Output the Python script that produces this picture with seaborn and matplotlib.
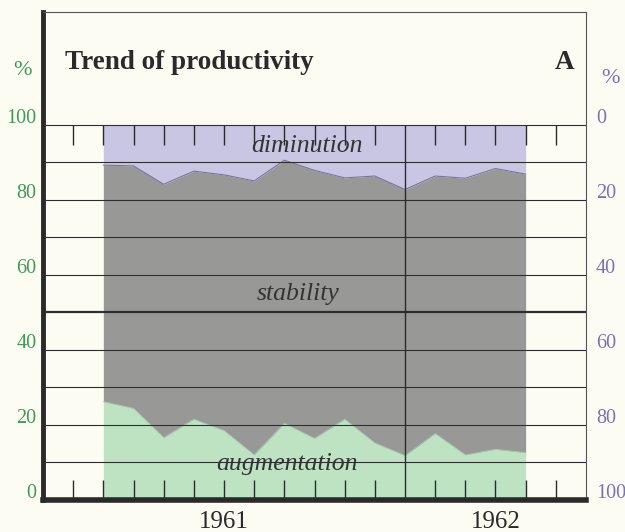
import numpy as np
import pandas as pd
import matplotlib.pyplot as plt
import matplotlib.transforms as mtransforms
import seaborn as sns

# monthly shares (%)
months = pd.period_range('1961-03', '1962-05', freq='M')
augmentation = [26.2, 24.4, 16.6, 21.5, 18.5, 12.0, 20.4, 16.4, 21.5, 15.2, 11.8, 17.7, 12.0, 13.5, 12.6]
stability = [63.0, 64.6, 67.5, 66.1, 68.1, 73.0, 70.1, 71.4, 64.3, 71.1, 70.9, 68.6, 73.7, 74.8, 74.2]
diminution = [10.8, 11.0, 15.9, 12.4, 13.4, 15.0, 9.5, 12.2, 14.2, 13.7, 17.3, 13.7, 14.3, 11.7, 13.2]
years = ['1961', '1962']
left_labels = [0, 20, 40, 60, 80, 100]

bg = '#fdfcf3'
green = '#bde3c3'
gray = '#989896'
purple = '#c9c6e4'
green_txt = '#3f9a55'
purple_txt = '#7b72b5'
ink = '#2a2a2a'

sns.set_theme(style='white')
plt.rcParams['font.family'] = ['Liberation Serif', 'DejaVu Serif']

df = pd.DataFrame({'month': months, 'augmentation': augmentation,
                   'stability': stability, 'diminution': diminution})
df['x'] = [(p.year - 1961) * 12 + p.month - 1 for p in df['month']]
df['low'] = df['augmentation']
df['high'] = df['augmentation'] + df['stability']

fig = plt.figure(figsize=(6.25, 5.32), dpi=100, facecolor=bg)
ax = fig.add_axes([0.0688, 0.0602, 0.8688, 0.9173])
ax.set_facecolor(bg)

# stacked areas
ax.fill_between(df['x'], 0, df['low'], color=green, lw=0)
ax.fill_between(df['x'], df['low'], df['high'], color=gray, lw=0)
ax.fill_between(df['x'], df['high'], 100, color=purple, lw=0)
sns.lineplot(data=df, x='x', y='high', color='#77739f', lw=0.8, ax=ax)
sns.lineplot(data=df, x='x', y='low', color='#a9cdb0', lw=0.6, ax=ax)

# horizontal rules
for v in range(10, 101, 10):
    ax.axhline(v, color='#2e2e2e', lw=1.6 if v == 50 else 0.8, zorder=3)

# month ticks and the year divider
for k in range(1, 18):
    if k == 12:
        ax.vlines(k, 0, 100, color='#2a2a2a', lw=1.0, zorder=3)
    else:
        ax.vlines(k, 0, 5.2, color='#2a2a2a', lw=1.0, zorder=3)
        ax.vlines(k, 94.5, 100, color='#2a2a2a', lw=1.0, zorder=3)

ax.set_xlim(0, 18)
ax.set_ylim(0, 130)
ax.set_xticks([])
ax.set_yticks([])
ax.set_xlabel('')
ax.set_ylabel('')

for side in ['top', 'right']:
    ax.spines[side].set_color('#555555')
    ax.spines[side].set_linewidth(0.8)
ax.spines['left'].set_color(ink)
ax.spines['left'].set_linewidth(3.5)
ax.spines['bottom'].set_color(ink)
ax.spines['bottom'].set_linewidth(4)

trans = mtransforms.blended_transform_factory(ax.transAxes, ax.transData)
for v in left_labels:
    ax.text(-0.012, v + 0.5, str(v), transform=trans, ha='right', va='baseline',
            fontsize=14.5, color=green_txt)
    ax.text(1.018, v + 0.5, str(100 - v), transform=trans, ha='left', va='baseline',
            fontsize=14.5, color=purple_txt)
ax.text(-0.037, 114.5, '%', transform=trans, ha='center', va='center',
        fontsize=16, color=green_txt)
ax.text(1.046, 112.4, '%', transform=trans, ha='center', va='center',
        fontsize=16, color=purple_txt)

ax.text(0.0405, 116.6, 'Trend of productivity', transform=trans, ha='left',
        va='center', fontsize=19.5, fontweight='bold', color=ink)
ax.text(0.978, 116.6, 'A', transform=trans, ha='right', va='center',
        fontsize=19.5, fontweight='bold', color=ink)

for year, xc in zip(years, [6, 15]):
    ax.text(xc, -5.8, year, ha='center', va='center', fontsize=18, color=ink,
            clip_on=False)

ax.text(8.75, 94.3, 'diminution', ha='center', va='center', fontsize=18.5,
        style='italic', color='#333333', zorder=4)
ax.text(8.45, 54.9, 'stability', ha='center', va='center', fontsize=18.5,
        style='italic', color='#333333', zorder=4)
ax.text(8.09, 9.6, 'augmentation', ha='center', va='center', fontsize=18.5,
        style='italic', color='#333333', zorder=4)

fig.savefig('out.png', dpi=100, facecolor=bg)
